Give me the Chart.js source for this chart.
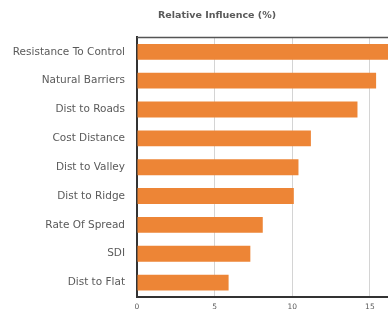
<!DOCTYPE html>
<html>
<head>
<meta charset="utf-8">
<script src="https://cdn.jsdelivr.net/npm/chart.js@4/dist/chart.umd.min.js"></script>
<style>
    html, body { margin: 0; padding: 0; background: #fff; overflow: hidden; }
    #wrap { width: 388px; height: 318px; overflow: hidden; }
</style>
</head>
<body>
<div id="wrap">
    <canvas id="influenceChart" width="432" height="318"></canvas>
</div>
<script>
const categories = ["Resistance To Control", "Natural Barriers", "Dist to Roads", "Cost Distance", "Dist to Valley", "Dist to Ridge", "Rate Of Spread", "SDI", "Dist to Flat"];
const influence = [17.2, 15.4, 14.2, 11.2, 10.4, 10.1, 8.1, 7.3, 5.9];
const tickValues = [0, 5, 10, 15];

const barColor = '#ED8536';
const textColor = '#5a5a5a';
const fontFamily = 'DejaVu Sans';

// top border of the plot box
const topBorder = {
    id: 'topBorder',
    afterDraw: (chart) => {
        const { ctx, chartArea } = chart;
        ctx.save();
        ctx.strokeStyle = '#555';
        ctx.lineWidth = 1.5;
        ctx.beginPath();
        ctx.moveTo(chartArea.left, chartArea.top);
        ctx.lineTo(chartArea.right, chartArea.top);
        ctx.stroke();
        ctx.restore();
    }
};

window.onload = (event) => {
    const ctx = document.getElementById('influenceChart').getContext('2d');
    new Chart(ctx, {
        type: 'bar',
        data: {
            labels: categories,
            datasets: [
                {
                    label: 'Relative Influence (%)',
                    data: influence,
                    backgroundColor: barColor,
                    borderWidth: 0,
                    barPercentage: 0.55,
                    categoryPercentage: 1.0
                }
            ]
        },
        options: {
            indexAxis: 'y',
            responsive: false,
            animation: false,
            layout: {
                padding: { left: 2, right: 0, top: 0, bottom: 0 }
            },
            plugins: {
                legend: { display: false },
                tooltip: { enabled: false },
                title: {
                    display: true,
                    text: 'Relative Influence (%)',
                    color: textColor,
                    font: { family: fontFamily, size: 9.5, weight: 'bold' },
                    padding: { top: 10, bottom: 16 }
                }
            },
            scales: {
                x: {
                    min: 0,
                    max: 19,
                    afterBuildTicks: (axis) => {
                        axis.ticks = tickValues.map(v => ({ value: v }));
                    },
                    grid: {
                        color: '#d4d4d4',
                        drawTicks: false
                    },
                    border: { color: '#333', width: 2 },
                    ticks: {
                        color: textColor,
                        padding: 6,
                        font: { family: fontFamily, size: 7.5 }
                    }
                },
                y: {
                    afterFit: (axis) => {
                        axis.width = 135;
                    },
                    grid: { display: false },
                    border: { color: '#333', width: 2 },
                    ticks: {
                        color: textColor,
                        padding: 4,
                        font: { family: fontFamily, size: 10.5 }
                    }
                }
            }
        },
        plugins: [topBorder]
    });
};
</script>
</body>
</html>
